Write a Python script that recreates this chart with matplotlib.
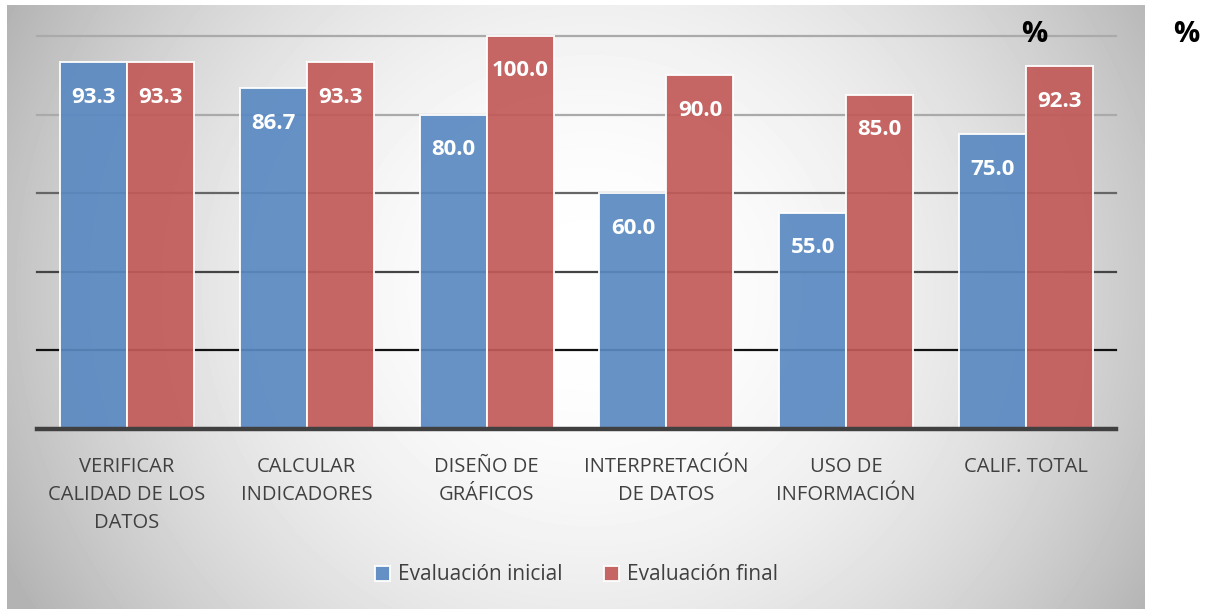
import numpy as np
import matplotlib
matplotlib.use("Agg")
import matplotlib.pyplot as plt

# datos de la evaluacion (porcentajes)
categorias = ["VERIFICAR\nCALIDAD DE LOS\nDATOS", "CALCULAR\nINDICADORES",
              "DISEÑO DE\nGRÁFICOS", "INTERPRETACIÓN\nDE DATOS",
              "USO DE\nINFORMACIÓN", "CALIF. TOTAL"]
eval_inicial = [93.3, 86.7, 80.0, 60.0, 55.0, 75.0]
eval_final = [93.3, 93.3, 100.0, 90.0, 85.0, 92.3]
series = ["Evaluación inicial", "Evaluación final"]
grid_vals = [20, 40, 60, 80, 100]

W, H = 1210, 609
plt.rcParams['font.family'] = ['Open Sans', 'DejaVu Sans']
fig = plt.figure(figsize=(W / 100, H / 100), dpi=100)
fig.patch.set_facecolor("white")

# fondo con degradado radial
bx0, bx1, by0, by1 = 7, 1145, 5, 609
bg = fig.add_axes([bx0 / W, 1 - by1 / H, (bx1 - bx0) / W, (by1 - by0) / H])
xs = np.arange(bx0, bx1)
ys = np.arange(by0, by1)
X, Y = np.meshgrid(xs, ys)
d2 = ((X - 590) / 590.0) ** 2 + ((Y - 290) / 560.0) ** 2
val = np.clip(255 - 62 * d2, 180, 255) / 255.0
bg.imshow(val, cmap="gray", vmin=0, vmax=1, aspect="auto", interpolation="bilinear")
bg.axis("off")

# area de grafico
left, right, top, bottom = 37, 1116, 36, 429
ax = fig.add_axes([left / W, 1 - bottom / H, (right - left) / W, (bottom - top) / H])
ax.patch.set_alpha(0)
ax.set_xlim(-0.5, len(categorias) - 0.5)
ax.set_ylim(0, 100)

grid_cols = {20: "#111111", 40: "#444444", 60: "#666666", 80: "#aaaaaa", 100: "#aaaaaa"}
for g in grid_vals:
    ax.axhline(g, color=grid_cols[g], lw=1.6, zorder=1, clip_on=False)
ax.axhline(0, color="#404040", lw=3.2, zorder=4, clip_on=False)

x = np.arange(len(categorias))
w = 0.373
b1 = ax.bar(x - w / 2, eval_inicial, w, color="#5a89c2", alpha=0.92,
            edgecolor="white", linewidth=1.4, zorder=2, clip_on=False, label=series[0])
b2 = ax.bar(x + w / 2, eval_final, w, color="#c25a58", alpha=0.92,
            edgecolor="white", linewidth=1.4, zorder=2, clip_on=False, label=series[1])

for bars, vals in ((b1, eval_inicial), (b2, eval_final)):
    for r, v in zip(bars, vals):
        ax.text(r.get_x() + r.get_width() / 2, v - 8.9, f"{v:.1f}",
                ha="center", va="center", color="white", fontsize=16,
                fontweight="bold", zorder=5)

for s in ax.spines.values():
    s.set_visible(False)
ax.set_yticks([])
ax.set_xticks(x)
ax.set_xticklabels(categorias, fontsize=14.5, color="#404040", linespacing=1.55)
ax.tick_params(axis="x", length=0, pad=20)

ax.legend(loc="center", bbox_to_anchor=(0.5, (429 - 575) / (429 - 36)),
          ncol=2, frameon=False, fontsize=15, handlelength=0.7, handleheight=0.7,
          handletextpad=0.4, columnspacing=2.0, labelcolor="#404040")

fig.text(1034 / W, 1 - 35 / H, "%", fontsize=21, fontweight="bold", ha="center", va="center")
fig.text(1186 / W, 1 - 35 / H, "%", fontsize=21, fontweight="bold", ha="center", va="center")

fig.savefig("out.png", dpi=100)
